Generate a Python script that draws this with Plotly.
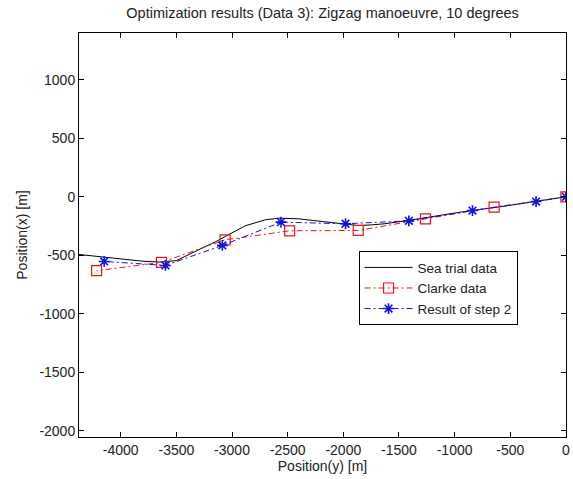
import plotly.graph_objects as go

# Sea trial track (y, x) in metres
sea_y = [-4400, -4200, -4000, -3800, -3650, -3500, -3300, -3150, -3050, -2880, -2700,
         -2580, -2400, -2220, -2050, -1870, -1750, -1630, -1420, -1210, -910, -615, -320, -20, 0]
sea_x = [-490, -510, -530, -550, -557, -545, -452, -385, -333, -247, -196,
         -182, -188, -208, -225, -245, -240, -230, -202, -168, -125, -88, -45, -3, 0]

# Clarke model prediction
clarke_y = [0, -645, -1262, -1866, -2482, -3062, -3634, -4217]
clarke_x = [0, -88, -188, -287, -290, -367, -560, -631]

# Result of optimisation step 2
step2_y = [0, -268, -839, -1411, -1980, -2560, -3087, -3598, -4149]
step2_x = [0, -40, -117, -205, -230, -216, -415, -586, -552]

xticks = [-4000, -3500, -3000, -2500, -2000, -1500, -1000, -500, 0]
yticks = [-2000, -1500, -1000, -500, 0, 500, 1000]

dashdot = "6px,3px,2px,3px"
txt = "#222"

fig = go.Figure()
fig.add_trace(go.Scatter(x=sea_y, y=sea_x, mode="lines", name="Sea trial data",
                         line=dict(color="black", width=1)))
fig.add_trace(go.Scatter(x=clarke_y, y=clarke_x, mode="lines+markers", name="Clarke data",
                         line=dict(color="#e8141c", width=1, dash=dashdot),
                         marker=dict(symbol="square-open", size=10, color="#e8141c",
                                     line=dict(width=1.2, color="#e8141c"))))
fig.add_trace(go.Scatter(x=step2_y, y=step2_x, mode="lines+markers", name="Result of step 2",
                         line=dict(color="#1010e0", width=1, dash=dashdot),
                         marker=dict(symbol="asterisk-open", size=9, color="#1010e0",
                                     line=dict(width=1.6, color="#1010e0"))))

axis_common = dict(showgrid=False, zeroline=False, showline=True, linecolor="black",
                   linewidth=1, mirror="ticks", ticks="inside", ticklen=5,
                   tickcolor="black", tickfont=dict(size=14, color=txt),
                   ticklabeloverflow="allow")

fig.update_layout(
    width=573, height=479,
    margin=dict(l=79, r=3, t=33, b=42),
    paper_bgcolor="white", plot_bgcolor="white",
    font=dict(family="Liberation Sans, Arial, sans-serif", size=14, color=txt),
    title=dict(text="Optimization results (Data 3): Zigzag manoeuvre, 10 degrees",
               x=0.563, xanchor="center", y=0.972, yanchor="middle",
               font=dict(size=14.5, color=txt)),
    xaxis=dict(range=[-4375, 1], tickvals=xticks, ticktext=[str(v) for v in xticks],
               title=dict(text="Position(y) [m]", standoff=4, font=dict(size=14, color=txt)),
               **axis_common),
    yaxis=dict(range=[-2052, 1400], tickvals=yticks, ticktext=[str(v) for v in yticks],
               title=dict(text="Position(x) [m]", standoff=8, font=dict(size=14, color=txt)),
               **axis_common),
    legend=dict(x=0.574, y=0.46, xanchor="left", yanchor="top",
                bgcolor="white", bordercolor="black", borderwidth=1,
                font=dict(size=13.5, color=txt), tracegroupgap=0,
                itemwidth=48),
    showlegend=True,
)

fig.write_html("out.html")
